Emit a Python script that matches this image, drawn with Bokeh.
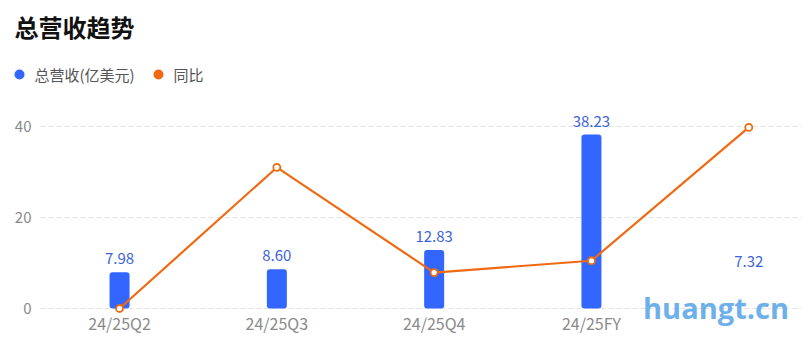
from bokeh.plotting import figure
from bokeh.models import Range1d, ColumnDataSource, LabelSet, Label
from bokeh.core.properties import value
from bokeh.embed import file_html
from bokeh.resources import INLINE

title_text = "总营收趋势"
categories = ["24/25Q2", "24/25Q3", "24/25Q4", "24/25FY", ""]
revenue = [7.98, 8.60, 12.83, 38.23, 7.32]
yoy = [0.0, 31.0, 7.9, 10.5, 39.8]
y_ticks = [0, 20, 40]
legend_labels = ["总营收(亿美元)", "同比"]

FONT = "Noto Sans CJK SC"
BLUE = "#3366ff"
LABEL_BLUE = "#3d63d8"
ORANGE = "#ef6a12"
legend_colors = [BLUE, ORANGE]

W, H = 803, 355
# layout of the plotting area in pixels
LEFT, BAND = 40.4, 157.3        # left edge of first category band, band width
ZERO, PX_PER_UNIT = 308.0, 4.55  # pixel row of y=0, pixels per y unit


def X(px):
    return -0.5 + (px - LEFT) / BAND


def Y(py):
    return (ZERO - py) / PX_PER_UNIT


p = figure(width=W, height=H, output_backend="svg", toolbar_location=None,
           x_range=Range1d(X(0), X(W)), y_range=Range1d(Y(H), Y(0)),
           x_axis_location=None, y_axis_location=None, min_border=0)
p.outline_line_color = None
p.grid.visible = False

idx = list(range(len(categories)))

# grid lines
p.segment(x0=[X(40)] * len(y_ticks), x1=[X(801)] * len(y_ticks), y0=y_ticks, y1=y_ticks,
          line_color="#e3e3e3", line_width=1, line_dash="5 3")

# y tick labels
ytl = ColumnDataSource(dict(x=[X(31)] * len(y_ticks), y=y_ticks, t=[str(v) for v in y_ticks]))
p.add_layout(LabelSet(x="x", y="y", text="t", source=ytl, text_align="right",
                      text_baseline="middle", text_font=value(FONT),
                      text_font_size=value("15px"), text_color=value("#8a8a8a")))

# x tick labels
xtl = ColumnDataSource(dict(x=idx, y=[Y(322)] * len(idx), t=categories))
p.add_layout(LabelSet(x="x", y="y", text="t", source=xtl, text_align="center",
                      text_baseline="middle", text_font=value(FONT),
                      text_font_size=value("16px"), text_color=value("#8a8a8a")))

# bars
bars = ColumnDataSource(dict(x=idx[:4], top=revenue[:4]))
p.vbar(x="x", top="top", bottom=0, width=20 / BAND, source=bars, fill_color=BLUE,
       line_color=None, border_radius=3)

lab = ColumnDataSource(dict(x=idx, y=revenue, t=["%.2f" % v for v in revenue]))
p.add_layout(LabelSet(x="x", y="y", text="t", source=lab, text_align="center",
                      text_baseline="bottom", y_offset=8, text_font=value(FONT),
                      text_font_size=value("15px"), text_color=value(LABEL_BLUE)))

# yoy line
line_src = ColumnDataSource(dict(x=idx, y=yoy))
p.line(x="x", y="y", source=line_src, line_color=ORANGE, line_width=2.2)
p.scatter(x="x", y="y", source=line_src, size=7, fill_color="white", line_color=ORANGE,
          line_width=1.8)

# title
p.add_layout(Label(x=X(14), y=Y(26), text=title_text, text_font=FONT, text_font_size="24px",
                   text_font_style="bold", text_color="#111111", text_baseline="middle"))

# legend
leg = ColumnDataSource(dict(x=[X(19), X(158)], tx=[X(34), X(173)], y=[Y(74), Y(74)],
                            c=legend_colors, t=legend_labels))
p.scatter(x="x", y="y", source=leg, size=10, fill_color="c", line_color=None)
p.text(x="tx", y="y", text="t", source=leg, text_font=value(FONT), text_font_size="15px",
       text_color="#555555", text_baseline="middle")

# watermark
p.add_layout(Label(x=X(715.5), y=Y(307), text="huangt.cn", text_font="Open Sans",
                   text_font_size="29px", text_font_style="bold", text_color="#6db0ea",
                   text_align="center", text_baseline="middle"))

open("out.html", "w").write(file_html(p, INLINE))
